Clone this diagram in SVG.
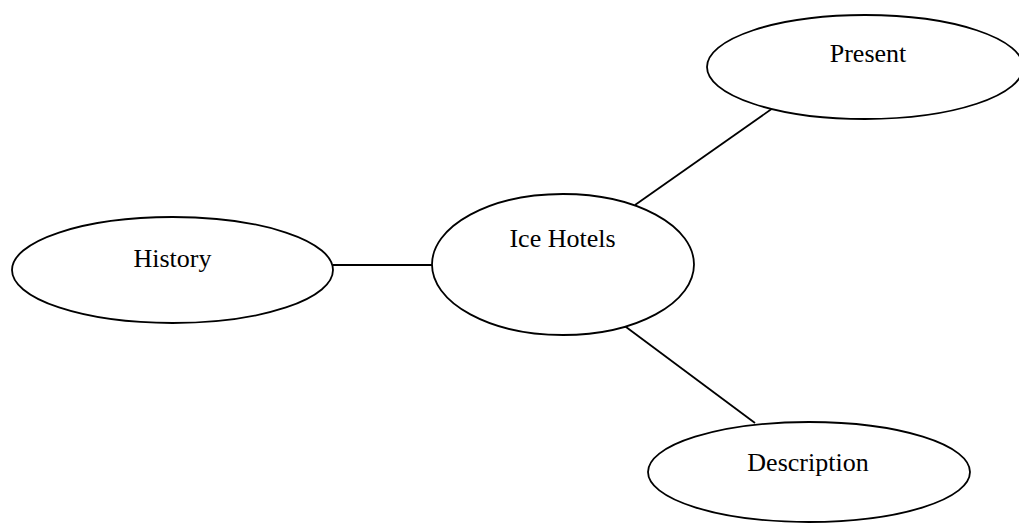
<svg xmlns="http://www.w3.org/2000/svg" width="1019" height="523" viewBox="0 0 1019 523">
<style>
.node ellipse{fill:#fff;stroke:#000;stroke-width:1.8}
.node text{font-family:"Liberation Serif","Times New Roman",serif;font-size:26px;fill:#000;text-anchor:middle}
.conn line{stroke:#000;stroke-width:1.8}
</style>
<rect width="1019" height="523" fill="#fff"/>
<g class="conn">
<line x1="333" y1="265" x2="432" y2="265"/>
<line x1="635" y1="205" x2="773" y2="108"/>
<line x1="622" y1="324" x2="755" y2="423"/>
</g>
<g class="node" id="history">
<ellipse cx="172.5" cy="270" rx="160.5" ry="53"/>
<text x="172.5" y="267">History</text>
</g>
<g class="node" id="ice-hotels">
<ellipse cx="563" cy="264.5" rx="131" ry="70.5"/>
<text x="562.5" y="247">Ice Hotels</text>
</g>
<g class="node" id="present">
<ellipse cx="865" cy="67" rx="158" ry="52"/>
<text x="868" y="62">Present</text>
</g>
<g class="node" id="description">
<ellipse cx="809" cy="472" rx="161" ry="50"/>
<text x="808" y="471">Description</text>
</g>
</svg>
